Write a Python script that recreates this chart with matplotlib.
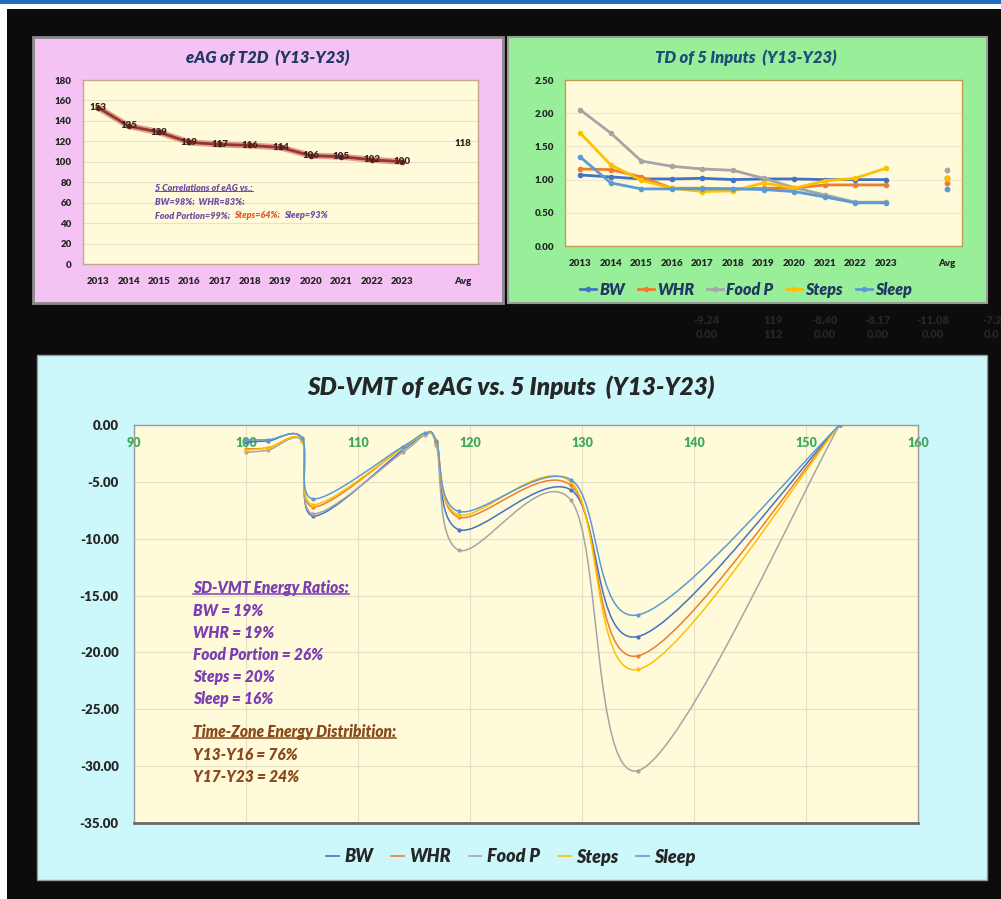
import numpy as np
import matplotlib
matplotlib.use('Agg')
import matplotlib.pyplot as plt
from matplotlib import font_manager
from matplotlib.path import Path
from matplotlib.patches import PathPatch, Rectangle
from matplotlib.lines import Line2D
from matplotlib.transforms import IdentityTransform
from matplotlib.ticker import FormatStrFormatter

# pick a family that really has a bold italic face
fam = 'DejaVu Sans'
for f in ['Lato', 'Open Sans', 'Noto Sans', 'Liberation Sans']:
    try:
        p = font_manager.findfont(font_manager.FontProperties(family=f, weight='bold', style='italic'),
                                  fallback_to_default=False)
        n = p.lower()
        if 'bold' in n and ('italic' in n or 'oblique' in n):
            fam = f
            break
    except Exception:
        pass

plt.rcParams['font.family'] = [fam, 'DejaVu Sans']
plt.rcParams['font.weight'] = 'heavy'
WT = 'heavy'

W, H = 1001, 899

# ---- data ----
years = ['2013', '2014', '2015', '2016', '2017', '2018', '2019', '2020', '2021', '2022', '2023', '', 'Avg']
eag = [153, 135, 129, 119, 117, 116, 114, 106, 105, 102, 100]
eag_avg = 118

series = ['BW', 'WHR', 'Food P', 'Steps', 'Sleep']
colors = ['#4472C4', '#ED7D31', '#A5A5A5', '#FFC000', '#5B9BD5']

td_bw = [1.07, 1.04, 1.01, 1.01, 1.02, 1.00, 1.01, 1.01, 1.00, 1.00, 1.00]
td_whr = [1.16, 1.15, 1.04, 0.87, 0.87, 0.86, 0.87, 0.87, 0.92, 0.92, 0.92]
td_food = [2.05, 1.70, 1.28, 1.20, 1.16, 1.14, 1.02, 0.88, 0.77, 0.66, 0.66]
td_steps = [1.70, 1.22, 0.99, 0.87, 0.82, 0.83, 0.95, 0.87, 0.98, 1.02, 1.17]
td_sleep = [1.34, 0.95, 0.86, 0.86, 0.86, 0.86, 0.85, 0.82, 0.74, 0.65, 0.65]
td_avg = [1.02, 0.95, 1.15, 1.03, 0.86]

vmt_bw = [0, -18.6, -5.7, -9.2, -1.6, -0.8, -2.2, -8.0, -1.2, -1.4, -1.5]
vmt_whr = [0, -20.3, -5.3, -8.1, -1.5, -0.8, -2.0, -7.2, -1.3, -2.0, -2.1]
vmt_food = [0, -30.4, -6.6, -11.0, -1.8, -0.9, -2.4, -7.8, -1.4, -2.2, -2.4]
vmt_steps = [0, -21.5, -5.0, -7.9, -1.5, -0.8, -2.0, -7.0, -1.3, -2.0, -2.2]
vmt_sleep = [0, -16.7, -4.8, -7.6, -1.4, -0.7, -1.9, -6.5, -1.1, -1.3, -1.3]

td_all = [td_bw, td_whr, td_food, td_steps, td_sleep]
vmt_all = [vmt_bw, vmt_whr, vmt_food, vmt_steps, vmt_sleep]


def box(x0, y0, x1, y1):
    # pixel box -> figure fraction rect
    return [x0 / W, 1 - y1 / H, (x1 - x0) / W, (y1 - y0) / H]


def panel(x0, y0, x1, y1, fc, ec, lw=1.5):
    r = box(x0, y0, x1, y1)
    fig.add_artist(Rectangle((r[0], r[1]), r[2], r[3], transform=fig.transFigure,
                             facecolor=fc, edgecolor=ec, linewidth=lw, zorder=0))


def smooth_path(xs, ys, t=1 / 6):
    # excel style smoothed line, bezier through the points
    p = np.column_stack([xs, ys]).astype(float)
    n = len(p)
    verts = [p[0]]
    codes = [Path.MOVETO]
    for i in range(n - 1):
        p0 = p[i - 1] if i > 0 else p[i]
        p1 = p[i]
        p2 = p[i + 1]
        p3 = p[i + 2] if i + 2 < n else p[i + 1]
        verts += [p1 + (p2 - p0) * t, p2 - (p3 - p1) * t, p2]
        codes += [Path.CURVE4] * 3
    return Path(verts, codes)


fig = plt.figure(figsize=(W / 100, H / 100), dpi=100)
fig.patch.set_facecolor('#0c0c0c')

# screenshot edges
fig.add_artist(Rectangle((0, 1 - 9 / H), 1, 9 / H, transform=fig.transFigure, facecolor='white', edgecolor='none', zorder=0))
fig.add_artist(Rectangle((0, 1 - 4 / H), 1, 4 / H, transform=fig.transFigure, facecolor='#1f6fc0', edgecolor='none', zorder=0))
fig.add_artist(Rectangle((0, 0), 7 / W, 1 - 4 / H, transform=fig.transFigure, facecolor='white', edgecolor='none', zorder=0))

# faint numbers behind the panels
bg_row1 = ['-9.24', '119', '-8.40', '-8.17', '-11.08', '-7.2']
bg_row2 = ['0.00', '112', '0.00', '0.00', '0.00', '0.0']
bg_x = [707, 773, 825, 878, 933, 992]
for i in range(len(bg_x)):
    fig.text(bg_x[i] / W, 1 - 320 / H, bg_row1[i], color='#262626', fontsize=8, ha='center', va='center')
    fig.text(bg_x[i] / W, 1 - 334 / H, bg_row2[i], color='#262626', fontsize=8, ha='center', va='center')

panel(33, 37, 503, 303, '#F4C3F4', '#8a8a8a', 2)
panel(508, 37, 987, 303, '#99EE99', '#9a9a9a', 1.5)
panel(37, 355, 987, 880, '#CCF8FB', '#9a9a9a', 1)

# ---------- top-left : eAG ----------
ax1 = fig.add_axes(box(83, 80, 478, 264))
ax1.set_facecolor('#FFFBDA')
xi = np.arange(len(eag))
ax1.plot(xi, eag, color='#E3A090', lw=4.5, solid_capstyle='round', zorder=2)
ax1.plot(xi, eag, color='#93382A', lw=2, marker='o', ms=3, mfc='#6e261b', mec='#6e261b', zorder=3)
for i, v in enumerate(eag):
    ax1.text(i, v, str(v), ha='center', va='center', fontsize=7, color='#3a2222', zorder=4)
ax1.text(12, eag_avg, str(eag_avg), ha='center', va='center', fontsize=7, color='#3a2222')
ax1.set_xlim(-0.5, 12.5)
ax1.set_ylim(0, 180)
ax1.set_yticks(range(0, 181, 20))
ax1.set_xticks(range(len(years)))
ax1.set_xticklabels(years)
ax1.tick_params(length=0, labelsize=7, colors='#262626', pad=9)
ax1.tick_params(axis='y', pad=8)
ax1.grid(axis='y', color='#E8E2C6', lw=0.8)
ax1.set_axisbelow(True)
for s in ax1.spines.values():
    s.set_color('#C4A88E')
    s.set_linewidth(1)
fig.text(268 / W, 1 - 58 / H, 'eAG of T2D  (Y13-Y23)', ha='center', va='center',
         fontsize=12, style='italic', color='#1F3864')

t_a = fig.text(155 / W, 1 - 188 / H, '5 Correlations of eAG vs.:', fontsize=6.5, style='italic',
               color='#6E4CA6', va='center')
fig.text(155 / W, 1 - 202 / H, 'BW=98%;  WHR=83%;', fontsize=6.5, style='italic', color='#6E4CA6', va='center')
t_f = fig.text(155 / W, 1 - 216 / H, 'Food Portion=99%;  ', fontsize=6.5, style='italic', color='#6E4CA6', va='center')

# ---------- top-right : TD ----------
ax2 = fig.add_axes(box(565, 80, 962, 246))
ax2.set_facecolor('#FFFBDA')
xi = np.arange(len(td_bw))
for k in range(len(series)):
    ax2.plot(xi, td_all[k], color=colors[k], lw=2, marker='o', ms=3, zorder=3)
    ax2.plot([12], [td_avg[k]], 'o', color=colors[k], ms=3.2, zorder=3)
ax2.set_xlim(-0.5, 12.5)
ax2.set_ylim(0, 2.5)
ax2.set_yticks(np.arange(0, 2.51, 0.5))
ax2.yaxis.set_major_formatter(FormatStrFormatter('%.2f'))
ax2.set_xticks(range(len(years)))
ax2.set_xticklabels(years)
ax2.tick_params(length=0, labelsize=7, colors='#262626', pad=9)
ax2.tick_params(axis='y', pad=8)
ax2.grid(axis='y', color='#EEE8D0', lw=0.8)
ax2.set_axisbelow(True)
for s in ax2.spines.values():
    s.set_color('#BFA050')
    s.set_linewidth(1)
fig.text(746 / W, 1 - 58 / H, 'TD of 5 Inputs  (Y13-Y23)', ha='center', va='center',
         fontsize=12, style='italic', color='#1F4E79')
h2 = [Line2D([], [], color=colors[k], lw=2, marker='o', ms=3) for k in range(len(series))]
leg2 = fig.legend(h2, series, loc='center', bbox_to_anchor=(746 / W, 1 - 290 / H), ncol=5,
                  frameon=False, handlelength=1.0, handletextpad=0.2, columnspacing=0.8,
                  prop={'size': 11.5, 'style': 'italic', 'weight': WT})
for t in leg2.get_texts():
    t.set_color('#1F3864')

# ---------- bottom : SD-VMT ----------
ax3 = fig.add_axes(box(134, 425, 918, 823))
ax3.set_facecolor('#FFFBDA')
for k in range(len(series)):
    ax3.add_patch(PathPatch(smooth_path(eag, vmt_all[k]), fill=False, edgecolor=colors[k], lw=1.1, zorder=3))
    ax3.plot(eag, vmt_all[k], 'o', color=colors[k], ms=2, zorder=3)
ax3.set_xlim(90, 160)
ax3.set_ylim(-35, 0)
ax3.set_xticks(range(90, 161, 10))
ax3.set_yticks(range(-35, 1, 5))
ax3.yaxis.set_major_formatter(FormatStrFormatter('%.2f'))
ax3.xaxis.tick_top()
ax3.tick_params(axis='x', length=0, labelsize=9, labelcolor='#3DAA5A', pad=-17)
ax3.tick_params(axis='y', length=0, labelsize=9.5, colors='#262626', pad=11)
ax3.grid(color='#E6E0C2', lw=0.8)
ax3.set_axisbelow(True)
for s in ax3.spines.values():
    s.set_color('#9a9a9a')
    s.set_linewidth(1)
ax3.spines['bottom'].set_color('#6a6a6a')
ax3.spines['bottom'].set_linewidth(2)
fig.text(511 / W, 1 - 387 / H, 'SD-VMT of eAG vs. 5 Inputs  (Y13-Y23)', ha='center', va='center',
         fontsize=17.5, style='italic', color='#262626')

purple = '#7B3FB5'
brown = '#8A4A1C'
fs = 11.2
t_s = fig.text(193 / W, 1 - 588 / H, 'SD-VMT Energy Ratios:', fontsize=fs, style='italic', color=purple, va='center')
ratio_lines = ['BW = 19%', 'WHR = 19%', 'Food Portion = 26%', 'Steps = 20%', 'Sleep = 16%']
ratio_y = [611, 633, 655, 677, 699]
for s, y in zip(ratio_lines, ratio_y):
    fig.text(193 / W, 1 - y / H, s, fontsize=fs, style='italic', color=purple, va='center')
t_z = fig.text(193 / W, 1 - 732 / H, 'Time-Zone Energy Distribition:', fontsize=fs, style='italic', color=brown, va='center')
fig.text(193 / W, 1 - 755 / H, 'Y13-Y16 = 76%', fontsize=fs, style='italic', color=brown, va='center')
fig.text(193 / W, 1 - 777 / H, 'Y17-Y23 = 24%', fontsize=fs, style='italic', color=brown, va='center')

h3 = [Line2D([], [], color=colors[k], lw=1.2) for k in range(len(series))]
leg3 = fig.legend(h3, series, loc='center', bbox_to_anchor=(511 / W, 1 - 857 / H), ncol=5,
                  frameon=False, handlelength=0.7, handletextpad=0.3, columnspacing=1.0,
                  prop={'size': 13, 'style': 'italic', 'weight': WT})
for t in leg3.get_texts():
    t.set_color('#262626')

# underlines + the two coloured pieces of the last note line
fig.canvas.draw()
rend = fig.canvas.get_renderer()
bb = t_f.get_window_extent(rend)
t_st = fig.text(bb.x1 / W, 1 - 216 / H, 'Steps=64%;  ', fontsize=6.5, style='italic', color='#E0592A', va='center')
bb2 = t_st.get_window_extent(rend)
fig.text(bb2.x1 / W, 1 - 216 / H, 'Sleep=93%', fontsize=6.5, style='italic', color='#6E4CA6', va='center')

for t, c, lw in [(t_a, '#6E4CA6', 0.7), (t_s, purple, 1.1), (t_z, brown, 1.1)]:
    b = t.get_window_extent(rend)
    y = b.y0 + 0.12 * b.height
    fig.add_artist(Line2D([b.x0, b.x1], [y, y], color=c, lw=lw, transform=IdentityTransform()))

fig.savefig('out.png', dpi=100, facecolor=fig.get_facecolor())
